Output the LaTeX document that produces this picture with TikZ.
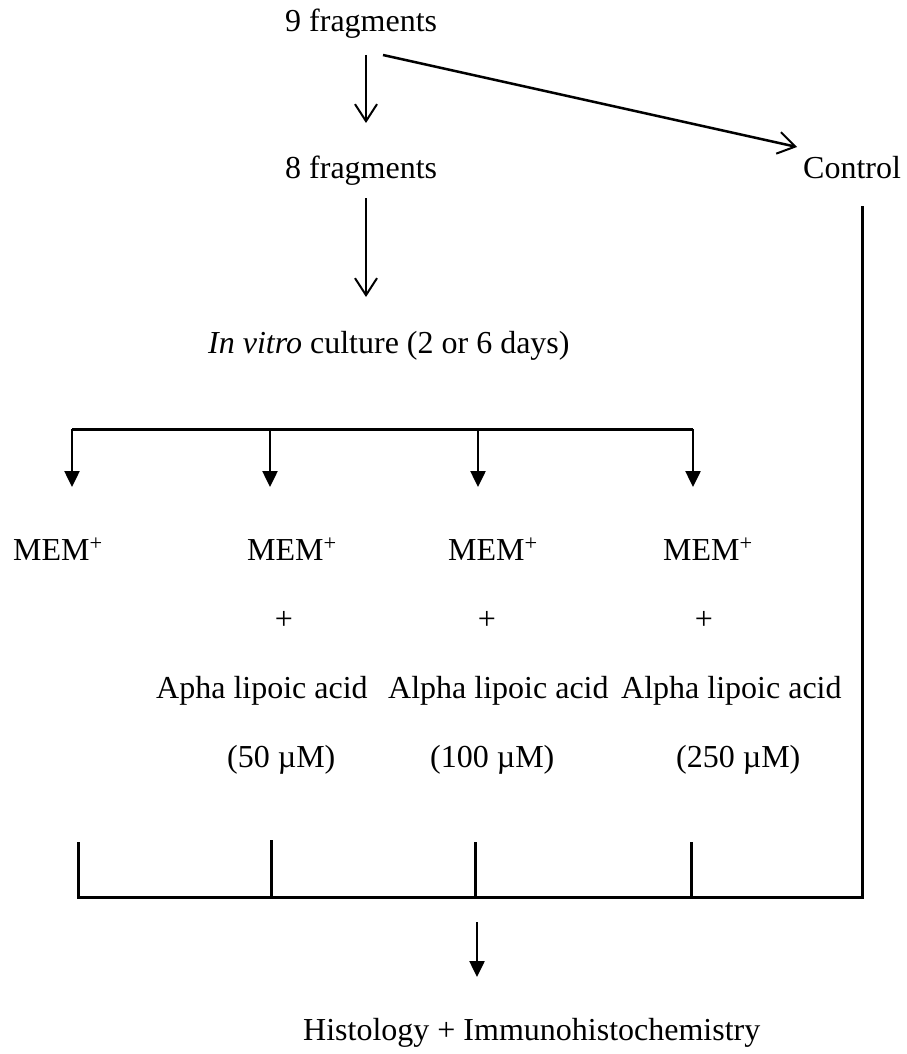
\documentclass[tikz,border=0pt]{standalone}
\usepackage{fontspec}
\setmainfont{Liberation Serif}
\usetikzlibrary{arrows.meta}
\begin{document}
\begin{tikzpicture}[x=1pt,y=-1pt,
  lbl/.style={inner sep=0pt, font=\fontsize{32}{38}\selectfont},
  lw/.style={lbl, anchor=base west},
  openarrow/.style={line width=2pt, -{Straight Barb[length=17pt,width=22pt,line width=2pt]}},
  solidarrow/.style={line width=2.5pt, -{Triangle[length=16pt,width=15pt]}},
  barline/.style={line width=3pt}]
\useasboundingbox (0,0) rectangle (906,1054);
% text nodes
\node[lw] (f9) at (285,32) {9 fragments};
\node[lw] (f8) at (285,178) {8 fragments};
\node[lw] (ctrl) at (803,178) {Control};
\node[lw] (vitro) at (208,353) {\textit{In vitro} culture (2 or 6 days)};
\node[lw] (m1) at (13,560) {MEM\textsuperscript{+}};
\node[lw] (m2) at (247,560) {MEM\textsuperscript{+}};
\node[lw] (m3) at (448,560) {MEM\textsuperscript{+}};
\node[lw] (m4) at (663,560) {MEM\textsuperscript{+}};
\node[lbl,anchor=base] (p2) at (284,629) {+};
\node[lbl,anchor=base] (p3) at (487,629) {+};
\node[lbl,anchor=base] (p4) at (704,629) {+};
\node[lw] (a2) at (156,698) {Apha lipoic acid};
\node[lw] (a3) at (388,698) {Alpha lipoic acid};
\node[lw] (a4) at (621,698) {Alpha lipoic acid};
\node[lw] (c2) at (227,767) {(50 µM)};
\node[lw] (c3) at (430,767) {(100 µM)};
\node[lw] (c4) at (676,767) {(250 µM)};
\node[lw] (histo) at (303,1040) {Histology + Immunohistochemistry};
% connector coordinates
\coordinate (s1) at (366,55);
\coordinate (e1) at (366,123);
\coordinate (s2) at (366,198);
\coordinate (e2) at (366,297);
\coordinate (sd) at (383,55);
\coordinate (ed) at (797,147);
\coordinate (b1) at (72,429);
\coordinate (b2) at (270,429);
\coordinate (b3) at (478,429);
\coordinate (b4) at (693,429);
\coordinate (t1) at (72,487);
\coordinate (t2) at (270,487);
\coordinate (t3) at (478,487);
\coordinate (t4) at (693,487);
\coordinate (u1) at (78,842);
\coordinate (u2) at (271,840);
\coordinate (u3) at (475,842);
\coordinate (u4) at (691,842);
\coordinate (l1) at (78,897);
\coordinate (l2) at (271,897);
\coordinate (l3) at (475,897);
\coordinate (l4) at (691,897);
\coordinate (cr) at (862,897);
\coordinate (ct) at (862,206);
\coordinate (hs) at (477,922);
\coordinate (he) at (477,977);
% connectors
\draw[openarrow] (s1) -- (e1);
\draw[openarrow] (s2) -- (e2);
\draw[openarrow, line width=2.5pt] (sd) -- (ed);
\draw[barline] (b1) -- (b4);
\draw[solidarrow] (b1) -- (t1);
\draw[solidarrow] (b2) -- (t2);
\draw[solidarrow] (b3) -- (t3);
\draw[solidarrow] (b4) -- (t4);
\draw[barline] (u1) -- (l1) -- (cr) -- (ct);
\draw[barline] (u2) -- (l2);
\draw[barline] (u3) -- (l3);
\draw[barline] (u4) -- (l4);
\draw[solidarrow] (hs) -- (he);
\end{tikzpicture}
\end{document}
